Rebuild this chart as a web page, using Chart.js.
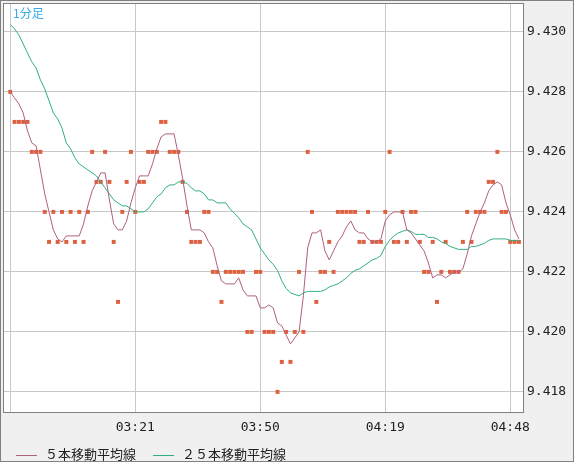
<!DOCTYPE html>
<html>
<head>
<meta charset="utf-8">
<script src="https://cdn.jsdelivr.net/npm/chart.js@4"></script>
<style>
body{margin:0;background:#f0f0f0;}
#wrap{position:relative;width:574px;height:462px;background:#f0f0f0;}
#title{position:absolute;left:13px;top:4px;font:12px "Noto Sans CJK JP";color:#33aaee;}
#legend{position:absolute;left:16px;top:444px;font:13px "Noto Sans CJK JP";color:#222;}
#legend span.l{display:inline-block;width:21px;height:0;border-top:1px solid;vertical-align:middle;margin-right:8px;}
</style>
</head>
<body>
<div id="wrap">
<canvas id="c" width="574" height="462"></canvas>
<div id="title">1分足</div>
<div id="legend"><span class="l" style="border-color:#b06080"></span>５本移動平均線<span class="l" style="border-color:#30b080;margin-left:17px"></span>２５本移動平均線</div>
</div>
<script>
// price dots, one per minute from 02:52
var prices = [9.428,9.427,9.427,9.427,9.427,9.426,9.426,9.426,9.424,9.423,
  9.424,9.423,9.424,9.423,9.424,9.423,9.424,9.423,9.424,9.426,
  9.425,9.425,9.426,9.425,9.423,9.421,9.424,9.425,9.426,9.424,
  9.425,9.425,9.426,9.426,9.426,9.427,9.427,9.426,9.426,9.426,
  9.425,9.424,9.423,9.423,9.423,9.424,9.424,9.422,9.422,9.421,
  9.422,9.422,9.422,9.422,9.422,9.420,9.420,9.422,9.422,9.420,
  9.420,9.420,9.418,9.419,9.420,9.419,9.420,9.422,9.420,9.426,
  9.424,9.421,9.422,9.422,9.423,9.422,9.424,9.424,9.424,9.424,
  9.424,9.423,9.423,9.424,9.423,9.423,9.423,9.424,9.426,9.423,
  9.423,9.424,9.423,9.424,9.424,9.423,9.422,9.422,9.423,9.421,
  9.422,9.423,9.422,9.422,9.422,9.423,9.424,9.423,9.424,9.424,
  9.424,9.425,9.425,9.426,9.424,9.424,9.423,9.423,9.423];
var ma5 = [9.4280,9.4278,9.4276,9.4273,9.4267,9.4263,9.4262,9.4254,9.4246,9.4240,
  9.4234,9.4231,9.4230,9.4232,9.4232,9.4232,9.4232,9.4236,9.4242,9.4247,
  9.4250,9.4253,9.4253,9.4244,9.4236,9.4234,9.4234,9.4237,9.4243,9.4248,
  9.4252,9.4252,9.4252,9.4256,9.4261,9.4265,9.4266,9.4266,9.4266,9.4259,
  9.4251,9.4242,9.4234,9.4234,9.4234,9.4233,9.4230,9.4228,9.4222,9.4217,
  9.4216,9.4216,9.4216,9.4218,9.4214,9.4212,9.4212,9.4212,9.4208,9.4208,
  9.4209,9.4208,9.4203,9.4202,9.4199,9.4196,9.4198,9.4200,9.4212,9.4228,
  9.4233,9.4233,9.4234,9.4227,9.4224,9.4227,9.4230,9.4232,9.4235,9.4237,
  9.4234,9.4233,9.4233,9.4231,9.4230,9.4230,9.4231,9.4237,9.4239,9.4240,
  9.4240,9.4240,9.4234,9.4233,9.4231,9.4229,9.4227,9.4223,9.4218,9.4219,
  9.4219,9.4218,9.4219,9.4220,9.4220,9.4221,9.4226,9.4232,9.4236,9.4240,
  9.4243,9.4247,9.4249,9.4250,9.4249,9.4243,9.4239,9.4234,9.4231];
var ma25 = [9.43025,9.4301,9.4299,9.4296,9.4293,9.4290,9.4288,9.4284,9.4281,9.4277,
  9.4273,9.4271,9.4268,9.4263,9.4261,9.4258,9.4256,9.4255,9.4254,9.4253,
  9.4252,9.4250,9.4248,9.4246,9.4244,9.4243,9.4242,9.4242,9.4241,9.4240,
  9.4240,9.4240,9.4241,9.4243,9.4245,9.4246,9.4248,9.4249,9.4249,9.4250,
  9.4250,9.42495,9.4248,9.4247,9.4247,9.4246,9.4244,9.4244,9.4243,9.4243,
  9.4243,9.4241,9.42395,9.4238,9.4236,9.4235,9.4234,9.4231,9.4228,9.4226,
  9.4224,9.42225,9.42205,9.4217,9.42145,9.4213,9.42125,9.4212,9.4213,9.42135,
  9.42135,9.42135,9.42135,9.4214,9.4215,9.42155,9.4216,9.4217,9.4218,9.42195,
  9.42205,9.4221,9.4222,9.4223,9.4224,9.42245,9.42255,9.42285,9.42305,9.4232,
  9.4233,9.42335,9.4234,9.42335,9.42325,9.42325,9.42325,9.42315,9.42315,9.4231,
  9.4230,9.42295,9.42285,9.4228,9.42275,9.42275,9.42275,9.42285,9.42285,9.4229,
  9.42295,9.42305,9.4231,9.4231,9.4231,9.4231,9.42305,9.42305,9.42305];
var xTicks = [0, 29, 58, 87, 116];
var xLabels = ['', '03:21', '03:50', '04:19', '04:48'];
var yTicks = [9.418, 9.420, 9.422, 9.424, 9.426, 9.428, 9.430];

function pts(arr){
    return arr.map(function(v, i){ return {x: i, y: v}; });
}

var frame = {
    id: 'frame',
    beforeDraw: function(chart){
        var a = chart.chartArea, ctx = chart.ctx;
        ctx.save();
        ctx.fillStyle = '#ffffff';
        ctx.fillRect(a.left, a.top, a.right - a.left, a.bottom - a.top);
        ctx.restore();
    },
    afterDraw: function(chart){
        var a = chart.chartArea, ctx = chart.ctx;
        ctx.save();
        ctx.strokeStyle = '#808080';
        ctx.lineWidth = 1;
        ctx.strokeRect(a.left - 0.5, a.top - 0.5, a.right - a.left + 1, a.bottom - a.top + 1);
        ctx.strokeRect(0.5, 0.5, 573, 461);
        ctx.restore();
    }
};

new Chart(document.getElementById('c').getContext('2d'), {
    type: 'scatter',
    data: {
        datasets: [
            {label: 'price', data: pts(prices), pointStyle: 'rect', radius: 2.8,
             backgroundColor: '#dd6040', borderWidth: 0, showLine: false, order: 3},
            {label: '５本移動平均線', data: pts(ma5), showLine: true, pointRadius: 0,
             borderColor: '#b06080', borderWidth: 1, order: 1},
            {label: '２５本移動平均線', data: pts(ma25), showLine: true, pointRadius: 0,
             borderColor: '#30b080', borderWidth: 1, order: 2}
        ]
    },
    options: {
        responsive: false,
        animation: false,
        layout: {padding: {left: 2, top: 2, right: 0, bottom: 0}},
        plugins: {legend: {display: false}, tooltip: {enabled: false}},
        scales: {
            x: {
                type: 'linear', min: -1.45, max: 118.95,
                afterBuildTicks: function(s){ s.ticks = xTicks.map(function(v){ return {value: v}; }); },
                afterFit: function(s){ s.height = 50; s.paddingLeft = 0; s.paddingRight = 0; },
                grid: {color: '#c8c8c8', drawTicks: false},
                border: {display: false},
                ticks: {
                    padding: 8, color: '#222', maxRotation: 0,
                    font: {family: 'DejaVu Sans Mono', size: 13},
                    callback: function(v){ return xLabels[xTicks.indexOf(v)]; }
                }
            },
            y: {
                position: 'right', min: 9.41733, max: 9.43093,
                afterBuildTicks: function(s){ s.ticks = yTicks.map(function(v){ return {value: v}; }); },
                afterFit: function(s){ s.width = 51; s.paddingTop = 0; s.paddingBottom = 0; },
                grid: {color: '#c8c8c8', drawTicks: false},
                border: {display: false},
                ticks: {
                    padding: 4, color: '#222',
                    font: {family: 'DejaVu Sans Mono', size: 13},
                    callback: function(v){ return v.toFixed(3); }
                }
            }
        }
    },
    plugins: [frame]
});
</script>
</body>
</html>
